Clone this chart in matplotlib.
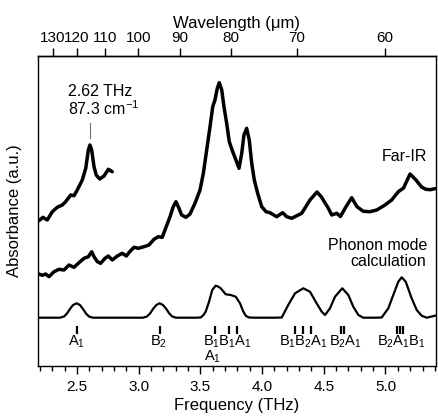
import matplotlib
matplotlib.use('Agg')
import matplotlib.pyplot as plt
import numpy as np

plt.rcParams['font.family'] = ['Liberation Sans', 'DejaVu Sans']
plt.rcParams['mathtext.fontset'] = 'custom'
plt.rcParams['mathtext.rm'] = 'Liberation Sans'
plt.rcParams['mathtext.default'] = 'regular'

# Far-IR spectrum, short low-frequency trace (shown offset above)
ir_low_thz = [2.192, 2.224, 2.259, 2.300, 2.340, 2.381, 2.408, 2.449, 2.476, 2.502,
              2.543, 2.571, 2.592, 2.605, 2.619, 2.638, 2.656, 2.684, 2.719, 2.754, 2.786]
ir_low_abs = [144.3, 147.7, 145.0, 153.3, 157.7, 160.0, 163.3, 170.0, 169.3, 175.0,
              185.0, 196.7, 215.0, 220.0, 215.0, 198.3, 190.0, 186.0, 189.0, 195.7, 193.3]

# Far-IR spectrum, full range
ir_thz = [2.192, 2.219, 2.246, 2.273, 2.314, 2.354, 2.395, 2.435, 2.476, 2.516,
          2.557, 2.592, 2.619, 2.638, 2.665, 2.692, 2.727, 2.754, 2.786, 2.827,
          2.867, 2.900, 2.927, 2.962, 2.997, 3.043, 3.083, 3.124, 3.159, 3.191,
          3.213, 3.254, 3.280, 3.302, 3.321, 3.348, 3.383, 3.416, 3.456, 3.497,
          3.524, 3.551, 3.578, 3.600, 3.618, 3.637, 3.653, 3.673, 3.691, 3.713,
          3.734, 3.762, 3.788, 3.813, 3.835, 3.853, 3.875, 3.896, 3.916, 3.937,
          3.964, 3.997, 4.032, 4.064, 4.118, 4.167, 4.199, 4.240, 4.321, 4.388,
          4.445, 4.479, 4.537, 4.564, 4.605, 4.635, 4.680, 4.726, 4.769, 4.820,
          4.874, 4.929, 4.996, 5.050, 5.104, 5.146, 5.199, 5.247, 5.292, 5.328,
          5.361, 5.401]
ir_abs = [91.0, 89.7, 91.0, 88.3, 93.3, 95.7, 95.0, 100.0, 97.7, 102.3,
          106.7, 108.3, 113.3, 108.3, 103.3, 101.7, 106.7, 109.0, 105.0, 109.0,
          111.7, 109.0, 113.3, 117.7, 116.7, 118.3, 120.0, 125.7, 128.3, 127.7,
          135.0, 148.3, 158.3, 163.3, 158.3, 150.0, 147.7, 151.0, 161.7, 175.0,
          191.7, 215.0, 238.3, 258.3, 265.0, 276.7, 282.3, 275.0, 258.3, 241.7,
          223.3, 213.3, 205.0, 196.7, 211.7, 230.0, 236.7, 225.0, 201.7, 185.0,
          171.7, 158.3, 153.3, 152.3, 148.3, 152.3, 148.3, 146.7, 151.7, 165.0,
          173.0, 168.3, 156.7, 150.0, 151.7, 148.5, 158.3, 167.3, 158.3, 153.7,
          153.3, 155.0, 160.0, 165.0, 173.3, 177.0, 191.0, 185.0, 178.0, 175.7,
          175.3, 176.3]

# phonon mode calculation (broadened spectrum)
calc_thz = [2.192, 2.362, 2.395, 2.419, 2.443, 2.468, 2.498, 2.524, 2.549, 2.573,
            2.597, 2.629, 3.035, 3.067, 3.092, 3.116, 3.143, 3.170, 3.197, 3.224,
            3.248, 3.272, 3.302, 3.464, 3.502, 3.525, 3.543, 3.570, 3.596, 3.624,
            3.643, 3.665, 3.705, 3.746, 3.786, 3.821, 3.848, 3.870, 3.894, 3.942,
            4.105, 4.159, 4.212, 4.267, 4.334, 4.388, 4.442, 4.483, 4.510, 4.550,
            4.591, 4.650, 4.699, 4.739, 4.780, 4.820, 4.915, 4.969, 5.023, 5.063,
            5.104, 5.131, 5.164, 5.212, 5.253, 5.293, 5.334, 5.401]
calc_abs = [47.3, 47.3, 48.5, 51.5, 56.0, 60.0, 61.7, 60.0, 56.0, 51.5,
            48.5, 47.3, 47.3, 48.5, 51.5, 56.0, 60.0, 61.7, 60.0, 56.0,
            51.5, 48.5, 47.3, 47.3, 47.5, 50.0, 53.3, 63.3, 75.0, 79.3,
            78.5, 76.7, 70.7, 70.0, 68.3, 61.7, 53.3, 49.0, 47.5, 47.3,
            47.3, 47.5, 60.0, 71.7, 76.7, 73.3, 61.7, 53.3, 50.0, 56.7,
            68.3, 76.7, 70.0, 58.3, 50.0, 47.3, 47.3, 47.5, 56.7, 70.0,
            83.3, 87.7, 83.3, 66.7, 55.0, 49.3, 47.3, 49.3]

# calculated mode frequencies (THz)
mode_thz = [2.50, 3.17, 3.62, 3.73, 3.80, 4.27, 4.33, 4.40, 4.64, 4.66, 5.09, 5.115, 5.14]
# symmetry labels, one per group of modes
group_thz = [2.50, 3.16, 3.72, 4.335, 4.675, 5.13]
group_labels = ['A$_1$', 'B$_2$', 'B$_1$B$_1$A$_1$', 'B$_1$B$_2$A$_1$', 'B$_2$A$_1$', 'B$_2$A$_1$B$_1$']
extra_thz = [3.60]
extra_labels = ['A$_1$']

wl_ticks = [130, 120, 110, 100, 90, 80, 70, 60]
freq_ticks = [2.5, 3.0, 3.5, 4.0, 4.5, 5.0]
C_UM_THZ = 299.792458

fig = plt.figure(figsize=(4.38, 4.17), dpi=100)
ax = fig.add_axes([0.0874, 0.1223, 0.9069, 0.7434])

ax.plot(ir_low_thz, ir_low_abs, color='black', lw=2.5, solid_joinstyle='round', solid_capstyle='round')
ax.plot(ir_thz, ir_abs, color='black', lw=2.5, solid_joinstyle='round', solid_capstyle='round')
ax.plot(calc_thz, calc_abs, color='black', lw=1.6, solid_joinstyle='round')

# mode markers
ax.vlines(mode_thz, 31, 39, color='black', lw=1.6)
for f, lab in zip(group_thz, group_labels):
    ax.text(f, 23, lab, ha='center', va='center', fontsize=10.5)
for f, lab in zip(extra_thz, extra_labels):
    ax.text(f, 8, lab, ha='center', va='center', fontsize=10.5)

# peak annotation
ax.plot([2.602, 2.602], [227, 242], color='0.45', lw=0.8)
ax.text(2.427, 274, '2.62 THz', ha='left', va='center', fontsize=11.5)
ax.text(2.427, 256, '87.3 cm$^{-1}$', ha='left', va='center', fontsize=11.5)

ax.text(5.336, 208.3, 'Far-IR', ha='right', va='center', fontsize=11.5)
ax.text(5.34, 120, 'Phonon mode', ha='right', va='center', fontsize=11.5)
ax.text(5.33, 103.3, 'calculation', ha='right', va='center', fontsize=11.5)

ax.set_xlim(2.1864, 5.4052)
ax.set_ylim(-1, 309)
ax.set_yticks([])
ax.set_xticks(freq_ticks)
ax.set_xticklabels(['%.1f' % t for t in freq_ticks])
ax.set_xticks(np.arange(2.2, 5.41, 0.1), minor=True)
ax.tick_params(axis='x', which='major', direction='out', length=6, width=1, labelsize=11, pad=4)
ax.tick_params(axis='x', which='minor', direction='out', length=3.5, width=1)
ax.set_xlabel('Frequency (THz)', fontsize=12, labelpad=3)
ax.set_ylabel('Absorbance (a.u.)', fontsize=12, labelpad=12)
for s in ax.spines.values():
    s.set_linewidth(1.0)

sec = ax.secondary_xaxis('top', functions=(lambda f: C_UM_THZ / np.clip(f, 1e-3, None),
                                           lambda w: C_UM_THZ / np.clip(w, 1e-3, None)))
sec.set_xticks(wl_ticks)
sec.set_xticklabels([str(w) for w in wl_ticks])
sec.xaxis.set_minor_locator(matplotlib.ticker.NullLocator())
sec.tick_params(axis='x', direction='out', length=6, width=1, labelsize=11, pad=2)
sec.set_xlabel('Wavelength (μm)', fontsize=12, labelpad=2)
sec.spines['top'].set_linewidth(1.0)

fig.savefig('out.png', dpi=100)
